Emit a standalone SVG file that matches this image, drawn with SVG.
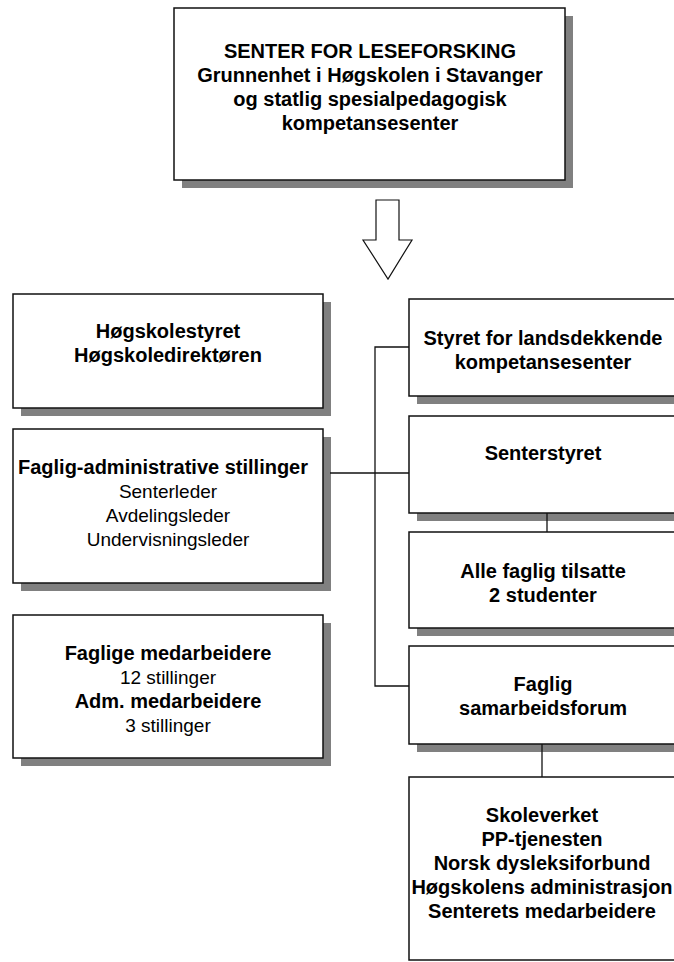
<svg xmlns="http://www.w3.org/2000/svg" width="674" height="962" viewBox="0 0 674 962">
<style>
.sh{fill:#808080;stroke:none}
.bx{fill:#fff;stroke:#111;stroke-width:1.5}
text{font-family:"Liberation Sans",Arial,sans-serif;font-size:19px;fill:#000;text-anchor:middle}
.b{font-weight:bold;font-size:20px}
.cn{fill:none;stroke:#111;stroke-width:1.3}
</style>
<rect width="674" height="962" fill="#fff"/>
<g id="top">
<rect class="sh" x="182" y="16" width="391" height="172"/>
<rect class="bx" x="174" y="8" width="391" height="172"/>
<text class="b" x="370" y="58">SENTER FOR LESEFORSKING</text>
<text class="b" x="370" y="82">Grunnenhet i Høgskolen i Stavanger</text>
<text class="b" x="370" y="106">og statlig spesialpedagogisk</text>
<text class="b" x="370" y="130">kompetansesenter</text>
</g>
<g id="arrow">
<polygon points="376,200 399,200 399,240 412,240 388,279 363,240 376,240" fill="#fff" stroke="#111" stroke-width="1.2"/>
</g>
<g id="hogskolestyret">
<rect class="sh" x="21" y="302" width="310" height="114"/>
<rect class="bx" x="13" y="294" width="310" height="114"/>
<text class="b" x="168" y="338">Høgskolestyret</text>
<text class="b" x="168" y="362">Høgskoledirektøren</text>
</g>
<g id="faglig-adm">
<rect class="sh" x="21" y="437" width="310" height="154"/>
<rect class="bx" x="13" y="429" width="310" height="154"/>
<text class="b" x="163" y="474">Faglig-administrative stillinger</text>
<text x="168" y="498">Senterleder</text>
<text x="168" y="522">Avdelingsleder</text>
<text x="168" y="546">Undervisningsleder</text>
</g>
<g id="medarbeidere">
<rect class="sh" x="21" y="623" width="310" height="143"/>
<rect class="bx" x="13" y="615" width="310" height="143"/>
<text class="b" x="168" y="660">Faglige medarbeidere</text>
<text x="168" y="684">12 stillinger</text>
<text class="b" x="168" y="708">Adm. medarbeidere</text>
<text x="168" y="732">3 stillinger</text>
</g>
<g id="styret-landsdekkende">
<rect class="sh" x="417" y="307" width="270" height="97"/>
<rect class="bx" x="409" y="299" width="270" height="97"/>
<text class="b" x="543" y="345">Styret for landsdekkende</text>
<text class="b" x="543" y="369">kompetansesenter</text>
</g>
<g id="senterstyret">
<rect class="sh" x="417" y="424" width="270" height="97"/>
<rect class="bx" x="409" y="416" width="270" height="97"/>
<text class="b" x="543" y="460">Senterstyret</text>
</g>
<g id="alle-faglig">
<rect class="sh" x="417" y="540" width="270" height="96"/>
<rect class="bx" x="409" y="532" width="270" height="96"/>
<text class="b" x="543" y="578">Alle faglig tilsatte</text>
<text class="b" x="543" y="602">2 studenter</text>
</g>
<g id="samarbeidsforum">
<rect class="sh" x="417" y="654" width="270" height="98"/>
<rect class="bx" x="409" y="646" width="270" height="98"/>
<text class="b" x="543" y="691">Faglig</text>
<text class="b" x="543" y="715">samarbeidsforum</text>
</g>
<g id="skoleverket">
<rect class="bx" x="409" y="777" width="270" height="183"/>
<text class="b" x="542" y="822">Skoleverket</text>
<text class="b" x="542" y="846">PP-tjenesten</text>
<text class="b" x="542" y="870">Norsk dysleksiforbund</text>
<text class="b" x="542" y="894">Høgskolens administrasjon</text>
<text class="b" x="542" y="918">Senterets medarbeidere</text>
</g>
<g id="connectors">
<polyline class="cn" points="409,347 375,347 375,686 409,686"/>
<line class="cn" x1="330" y1="473" x2="409" y2="473"/>
<line class="cn" x1="547" y1="513" x2="547" y2="532"/>
<line class="cn" x1="542" y1="744" x2="542" y2="777"/>
</g>
</svg>
